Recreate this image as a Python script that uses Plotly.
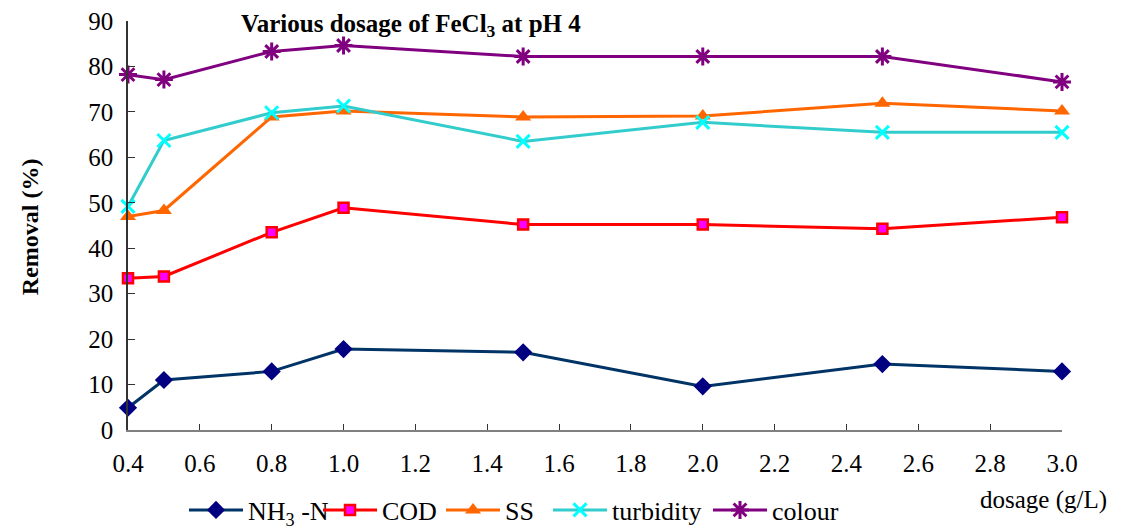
import plotly.graph_objects as go

dosage = [0.4, 0.5, 0.8, 1.0, 1.5, 2.0, 2.5, 3.0]
nh3_n = [4.9, 11.0, 12.9, 17.8, 17.1, 9.6, 14.5, 12.9]
cod = [33.4, 33.8, 43.5, 48.9, 45.2, 45.2, 44.3, 46.8]
ss = [47.0, 48.3, 68.9, 70.2, 68.9, 69.1, 71.9, 70.2]
turbidity = [49.2, 63.7, 69.8, 71.3, 63.5, 67.7, 65.5, 65.5]
colour = [78.2, 77.1, 83.3, 84.6, 82.2, 82.2, 82.2, 76.6]

x_ticks = [0.4, 0.6, 0.8, 1.0, 1.2, 1.4, 1.6, 1.8, 2.0, 2.2, 2.4, 2.6, 2.8, 3.0]
y_ticks = [0, 10, 20, 30, 40, 50, 60, 70, 80, 90]

FONT = "Liberation Serif"
# page body has an 8px margin in the viewer, so the figure is 8px smaller
W, H = 1116, 522
OFF = 8

fig = go.Figure()
fig.add_trace(go.Scatter(x=dosage, y=nh3_n, name="NH<sub>3</sub> -N", mode="lines+markers",
                         line=dict(color="#003366", width=3), legend="legend",
                         marker=dict(symbol="diamond", size=14, color="#000080"), cliponaxis=False))
fig.add_trace(go.Scatter(x=dosage, y=cod, name="COD", mode="lines+markers",
                         line=dict(color="#FF0000", width=3), legend="legend2",
                         marker=dict(symbol="square", size=10, color="#FF00FF",
                                     line=dict(color="#FF0000", width=2.5)), cliponaxis=False))
fig.add_trace(go.Scatter(x=dosage, y=ss, name="SS", mode="lines+markers",
                         line=dict(color="#FF6600", width=3), legend="legend3",
                         marker=dict(symbol="triangle-up", size=14, color="#FF6600"), cliponaxis=False))
fig.add_trace(go.Scatter(x=dosage, y=turbidity, name="turbidity", mode="lines+markers",
                         line=dict(color="#33CCCC", width=3), legend="legend4",
                         marker=dict(symbol="x-thin", size=13, color="#00FFFF",
                                     line=dict(color="#00FFFF", width=3)), cliponaxis=False))
fig.add_trace(go.Scatter(x=dosage, y=colour, name="colour", mode="lines+markers",
                         line=dict(color="#800080", width=3), legend="legend5",
                         marker=dict(symbol="asterisk", size=15, color="#800080",
                                     line=dict(color="#800080", width=3)), cliponaxis=False))

legend_marker_px = [216, 350, 473, 580, 740]
legend_y = 1 - (510 - OFF) / H


def legend_at(px):
    return dict(orientation="h", xref="container", yref="container",
                x=(px - 32 - OFF) / W, y=legend_y, xanchor="left", yanchor="middle",
                font=dict(family=FONT, size=26), itemwidth=54,
                bgcolor="rgba(0,0,0,0)")


fig.update_layout(
    width=W, height=H,
    margin=dict(l=128 - OFF, r=62, t=21 - OFF, b=100),
    paper_bgcolor="white", plot_bgcolor="white",
    font=dict(family=FONT, size=25, color="black"),
    showlegend=True,
    legend=legend_at(legend_marker_px[0]),
    legend2=legend_at(legend_marker_px[1]),
    legend3=legend_at(legend_marker_px[2]),
    legend4=legend_at(legend_marker_px[3]),
    legend5=legend_at(legend_marker_px[4]),
    xaxis=dict(range=[0.4, 3.0], tickmode="array", tickvals=x_ticks,
               ticktext=[f"{v:.1f}" for v in x_ticks], automargin=False,
               ticks="inside", ticklen=6, tickcolor="#333", showline=True,
               linecolor="#808080", linewidth=1.5, showgrid=False, zeroline=False,
               ticklabelstandoff=10, ticklabeloverflow="allow",
               tickfont=dict(family=FONT, size=25)),
    yaxis=dict(range=[0, 90], tickmode="array", tickvals=y_ticks, automargin=False,
               ticks="inside", ticklen=7, tickcolor="#333", showline=True,
               linecolor="#333", linewidth=1.5, showgrid=False, zeroline=False,
               ticklabelstandoff=8, ticklabeloverflow="allow",
               tickfont=dict(family=FONT, size=25)),
    annotations=[
        dict(text="<b>Various dosage of FeCl<sub>3</sub> at pH 4</b>", xref="paper", yref="paper",
             x=(411 - 128) / 934, y=1 + (21 - OFF) / 409, xanchor="center", yanchor="top",
             showarrow=False, font=dict(family=FONT, size=25)),
        dict(text="<b>Removal (%)</b>", xref="paper", yref="paper", x=(30 - 128) / 934, y=0.496,
             xanchor="center", yanchor="middle", textangle=-90, showarrow=False,
             font=dict(family=FONT, size=24)),
        dict(text="dosage (g/L)", xref="paper", yref="paper", x=(1043 - 128) / 934, y=-70 / 409,
             xanchor="center", yanchor="middle", showarrow=False,
             font=dict(family=FONT, size=25)),
    ],
)

fig.write_html("out.html")
